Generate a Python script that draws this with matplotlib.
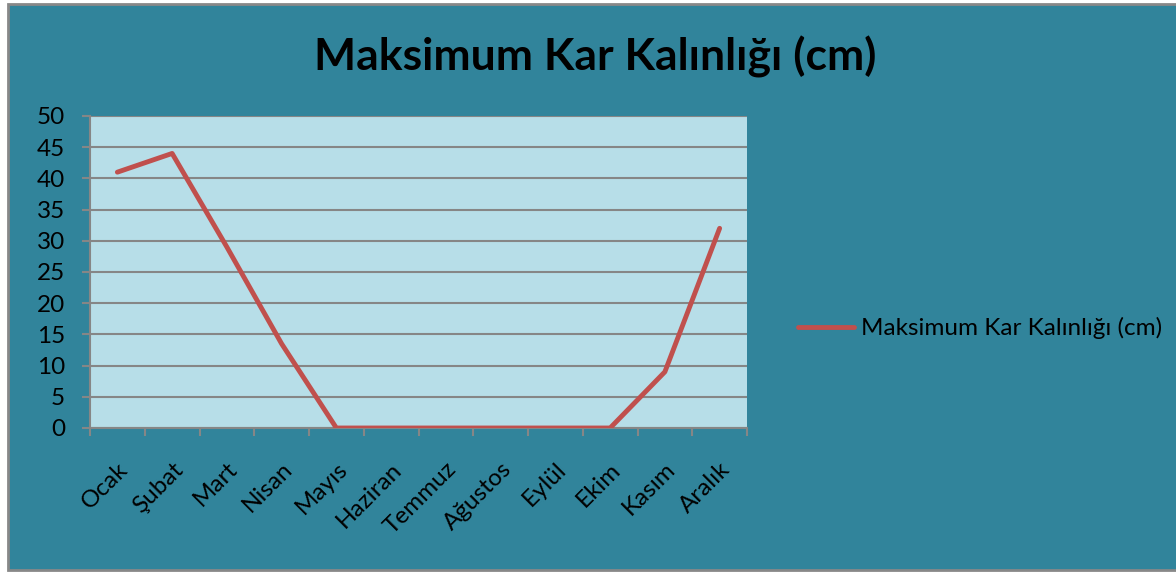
import matplotlib
matplotlib.use("Agg")
import matplotlib.pyplot as plt
from matplotlib.patches import Rectangle

months = ["Ocak", "Şubat", "Mart", "Nisan", "Mayıs", "Haziran",
          "Temmuz", "Ağustos", "Eylül", "Ekim", "Kasım", "Aralık"]
snow_cm = [41, 44, 29, 13.5, 0, 0, 0, 0, 0, 0, 9, 32]
series_name = "Maksimum Kar Kalınlığı (cm)"
title = "Maksimum Kar Kalınlığı (cm)"

bg = "#31849B"
plot_bg = "#B7DEE8"
line_col = "#C0504D"
grid_col = "#868686"

plt.rcParams['font.family'] = ['Lato', 'DejaVu Sans']

fig = plt.figure(figsize=(11.76, 5.74), dpi=100)
fig.patch.set_facecolor("white")
# teal chart area with grey frame (right edge runs off the image)
fig.patches.append(Rectangle((8 / 1176, 4 / 574), 1180 / 1176, 566 / 574,
                             transform=fig.transFigure, facecolor=bg,
                             edgecolor="#888888", linewidth=2, zorder=-10))

ax = fig.add_axes([90 / 1176, 1 - 428 / 574, 657 / 1176, 312 / 574])
ax.set_facecolor(plot_bg)

x = range(len(months))
ax.plot(x, snow_cm, color=line_col, linewidth=3.5, solid_capstyle="round",
        label=series_name, zorder=3)

ax.set_xlim(-0.5, len(months) - 0.5)
ax.set_ylim(0, 50)
ax.set_yticks(range(0, 51, 5))
ax.yaxis.grid(True, color=grid_col, linewidth=1.5)
ax.set_axisbelow(True)

# tick marks between categories, labels on category centres
ax.set_xticks([i - 0.5 for i in range(len(months) + 1)])
ax.set_xticklabels([])
ax.set_xticks(list(x), minor=True)
ax.set_xticklabels(months, minor=True, rotation=45, ha="right", va="top",
                   rotation_mode="anchor", fontsize=17.5)
ax.tick_params(axis="x", which="minor", length=0, pad=22)
ax.tick_params(axis="x", which="major", length=6, width=1.5, color=grid_col,
               direction="out")
ax.tick_params(axis="y", length=6, width=1.5, color=grid_col, labelsize=17.5,
               pad=12)

for side in ["top", "right"]:
    ax.spines[side].set_visible(False)
for side in ["left", "bottom"]:
    ax.spines[side].set_color(grid_col)
    ax.spines[side].set_linewidth(1.5)

fig.text(595 / 1176, 1 - 57 / 574, title, ha="center", va="center",
         fontsize=32, fontweight="bold")

fig.legend(loc="center left", bbox_to_anchor=(776 / 1176, 1 - 328 / 574),
           frameon=False, fontsize=17.5, handlelength=2.3,
           handletextpad=0.3)

fig.savefig("out.png", dpi=100, facecolor="white")
